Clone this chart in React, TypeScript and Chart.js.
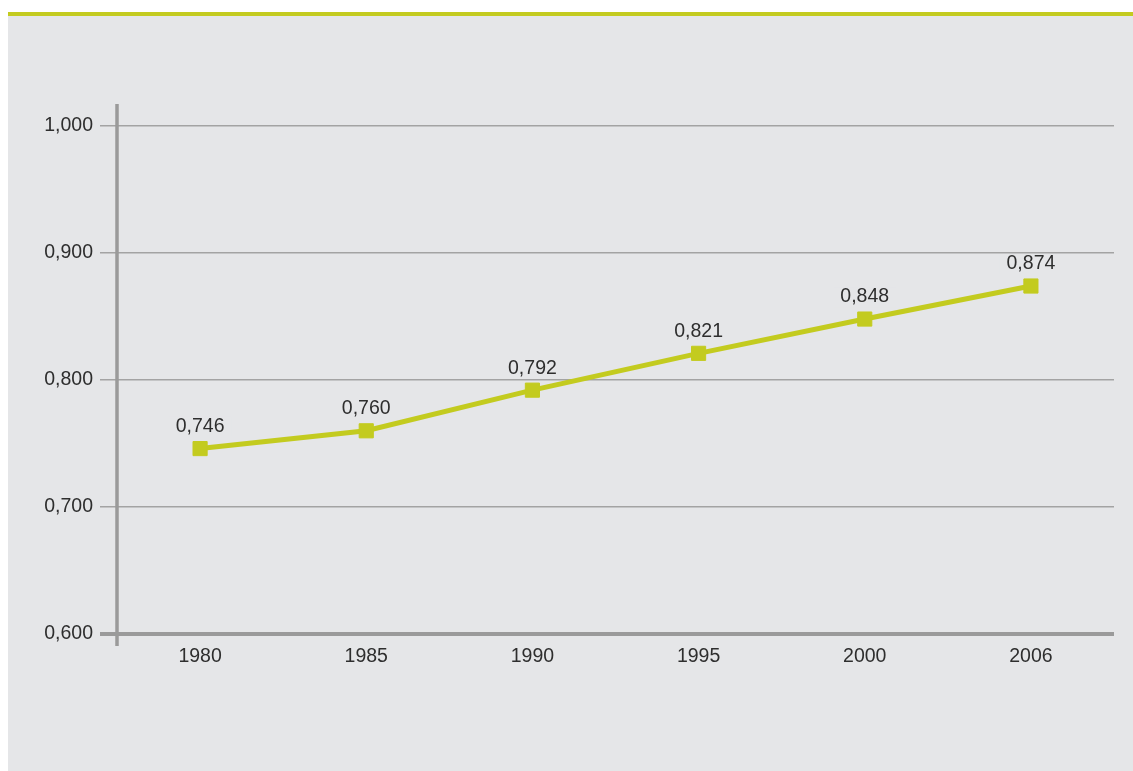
import React, { useEffect, useRef } from "react";
import { Chart, registerables } from "chart.js";

Chart.register(...registerables);

const years = ["1980", "1985", "1990", "1995", "2000", "2006"];
const values = [0.746, 0.76, 0.792, 0.821, 0.848, 0.874];
const yTicks = [0.6, 0.7, 0.8, 0.9, 1.0];

const BG = "#e5e6e8";
const GREEN = "#c3cb1f";
const TEXT = "#2e2e2e";
const FONT = "'Liberation Sans', Arial, Helvetica, sans-serif";
const fmt = (v: number) => v.toFixed(3).replace(".", ",");

export default function App() {
  const ref = useRef<HTMLCanvasElement | null>(null);

  useEffect(() => {
    if (!ref.current) return;

    const axisExt = {
      id: "axisExt",
      beforeDatasetsDraw(chart: any) {
        const { ctx, chartArea } = chart;
        ctx.save();
        ctx.strokeStyle = "#9a9a9a";
        ctx.lineWidth = 3.5;
        ctx.beginPath();
        ctx.moveTo(chartArea.left, chartArea.top - 22);
        ctx.lineTo(chartArea.left, chartArea.bottom + 12);
        ctx.stroke();
        ctx.restore();
      },
    };

    const valueLabels = {
      id: "valueLabels",
      afterDatasetsDraw(chart: any) {
        const { ctx } = chart;
        const meta = chart.getDatasetMeta(0);
        ctx.save();
        ctx.font = `19.5px ${FONT}`;
        ctx.textAlign = "center";
        ctx.textBaseline = "middle";
        meta.data.forEach((pt: any, i: number) => {
          const txt = fmt(values[i]);
          const w = ctx.measureText(txt).width;
          const cy = pt.y - 22;
          ctx.fillStyle = BG;
          ctx.fillRect(pt.x - w / 2 - 7, cy - 10, w + 14, 20);
          ctx.fillStyle = TEXT;
          ctx.fillText(txt, pt.x, cy);
        });
        ctx.restore();
      },
    };

    const chart = new Chart(ref.current, {
      type: "line",
      data: {
        labels: years,
        datasets: [
          {
            data: values,
            borderColor: GREEN,
            backgroundColor: GREEN,
            borderWidth: 5,
            pointStyle: "rect",
            pointRadius: 10,
            pointBorderWidth: 1,
            pointBackgroundColor: GREEN,
            pointBorderColor: GREEN,
            tension: 0,
          },
        ],
      },
      options: {
        animation: false,
        responsive: false,
        maintainAspectRatio: false,
        layout: { padding: { top: 110, right: 19, bottom: 0, left: 0 } },
        plugins: { legend: { display: false }, tooltip: { enabled: false } },
        scales: {
          x: {
            offset: true,
            grid: { display: false },
            border: { display: false },
            ticks: {
              color: TEXT,
              font: { family: FONT, size: 19.5 },
              padding: 3,
              maxRotation: 0,
            },
            afterFit: (s: any) => {
              s.height = 137;
            },
          },
          y: {
            min: 0.6,
            max: 1.0,
            afterBuildTicks: (s: any) => {
              s.ticks = yTicks.map((v) => ({ value: v }));
            },
            border: { display: false },
            grid: {
              color: (c: any) => (c.tick && Math.abs(c.tick.value - 0.6) < 1e-6 ? "#9a9a9a" : "#a3a3a3"),
              lineWidth: (c: any) => (c.tick && Math.abs(c.tick.value - 0.6) < 1e-6 ? 4 : 1.5),
              tickLength: 17,
              drawTicks: true,
            },
            ticks: {
              color: TEXT,
              font: { family: FONT, size: 19.5 },
              padding: 7,
              callback: (v: any) => fmt(Number(v)),
            },
            afterFit: (s: any) => {
              s.width = 109;
            },
          },
        },
      },
      plugins: [axisExt, valueLabels],
    });

    return () => chart.destroy();
  }, []);

  return (
    <div
      style={{
        position: "absolute",
        left: 8,
        top: 12,
        width: 1125,
        height: 759,
        background: BG,
        borderTop: `4px solid ${GREEN}`,
        boxSizing: "border-box",
      }}
    >
      <canvas ref={ref} width={1125} height={755} style={{ display: "block", width: 1125, height: 755 }} />
    </div>
  );
}
